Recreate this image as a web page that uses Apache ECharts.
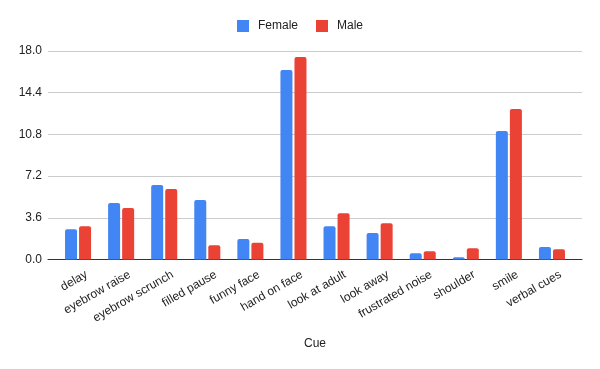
<!DOCTYPE html>
<html>
<head>
<meta charset="UTF-8">
<title></title>
<script src="https://cdn.jsdelivr.net/npm/echarts@6/dist/echarts.min.js"></script>
<style type="text/css">
	html, body { margin: 0; padding: 0; background: #fff; }
	#chart { width: 600px; height: 369px; }
</style>
</head>
<body>
<div id="chart"></div>
<script type="text/javascript">
var cues = ['delay', 'eyebrow raise', 'eyebrow scrunch', 'filled pause', 'funny face', 'hand on face',
	'look at adult', 'look away', 'frustrated noise', 'shoulder', 'smile', 'verbal cues'];
var female = [2.62, 4.87, 6.43, 5.13, 1.76, 16.37, 2.88, 2.28, 0.55, 0.2, 11.1, 1.07];
var male = [2.88, 4.44, 6.08, 1.24, 1.44, 17.49, 4.0, 3.14, 0.72, 0.98, 13.0, 0.89];
var yTicks = [0, 3.6, 7.2, 10.8, 14.4, 18];

var font = '"Liberation Sans", Arial, sans-serif';
var yMin = yTicks[0], yMax = yTicks[yTicks.length - 1];

var chart = echarts.init(document.getElementById('chart'));
chart.setOption({
	animation: false,
	color: ['#4285F4', '#EA4335'],
	legend: {
		top: 15,
		left: 'center',
		itemWidth: 12,
		itemHeight: 12,
		itemGap: 18,
		icon: 'rect',
		textStyle: { fontFamily: font, fontSize: 12, color: '#222', padding: [0, 0, 0, 4] },
		data: ['Female', 'Male']
	},
	// grid 0: full width frame (gridlines, baseline, y labels)
	// grid 1: bars, grid 2: category labels (anchored a bit right of centre like the original)
	grid: [
		{ left: 48, right: 18, top: 51, bottom: 109.5 },
		{ left: 56.5, right: 26.5, top: 51, bottom: 109.5 },
		{ left: 62, right: 21, top: 51, bottom: 109.5 }
	],
	xAxis: [
		{
			gridIndex: 0, type: 'value', min: 0, max: 1,
			name: 'Cue', nameLocation: 'middle', nameGap: 78,
			nameTextStyle: { fontFamily: font, fontSize: 12, color: '#222' },
			axisLine: { show: true, onZero: false, lineStyle: { color: '#333', width: 1 } },
			axisTick: { show: false }, axisLabel: { show: false }, splitLine: { show: false }
		},
		{
			gridIndex: 1, type: 'category', data: cues,
			axisLine: { show: false }, axisTick: { show: false }, axisLabel: { show: false }
		},
		{
			gridIndex: 2, type: 'category', data: cues,
			axisLine: { show: false }, axisTick: { show: false },
			axisLabel: {
				rotate: 30, interval: 0, margin: 9,
				align: 'right', verticalAlign: 'top',
				fontFamily: font, fontSize: 12, color: '#222'
			}
		}
	],
	yAxis: [
		{
			gridIndex: 0, type: 'value', min: yMin, max: yMax, interval: 3.6,
			axisLine: { show: false }, axisTick: { show: false },
			splitLine: { lineStyle: { color: '#ccc' } },
			axisLabel: {
				margin: 6, fontFamily: font, fontSize: 12, color: '#222',
				formatter: function (v) { return v.toFixed(1); }
			}
		},
		{
			gridIndex: 1, type: 'value', min: yMin, max: yMax, interval: 3.6,
			show: false, splitLine: { show: false }
		},
		{
			gridIndex: 2, type: 'value', min: yMin, max: yMax, interval: 3.6,
			show: false, splitLine: { show: false }
		}
	],
	series: [
		{
			name: 'Female', type: 'bar', xAxisIndex: 1, yAxisIndex: 1, data: female,
			barWidth: 12, barGap: '17%', itemStyle: { borderRadius: [2, 2, 0, 0] }
		},
		{
			name: 'Male', type: 'bar', xAxisIndex: 1, yAxisIndex: 1, data: male,
			barWidth: 12, barGap: '17%', itemStyle: { borderRadius: [2, 2, 0, 0] }
		}
	]
});
</script>
</body>
</html>
